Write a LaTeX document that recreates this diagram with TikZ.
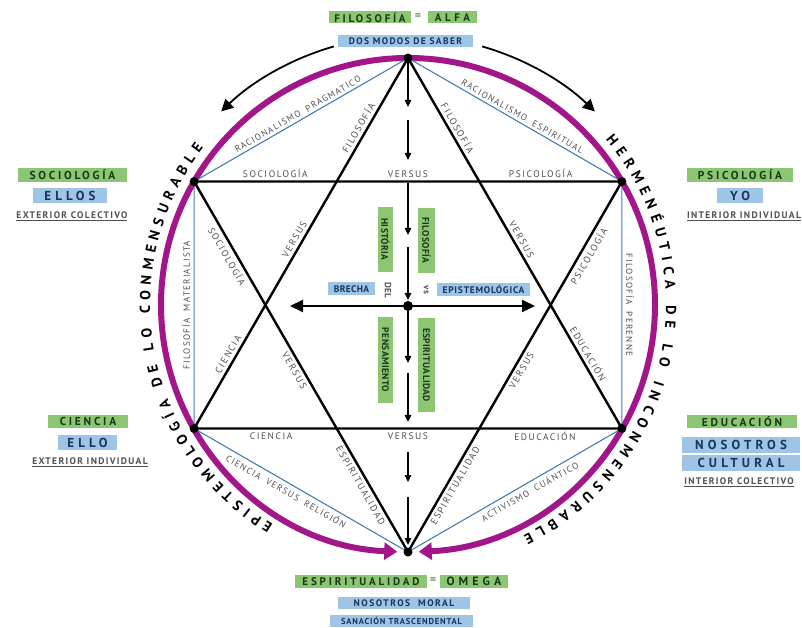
\documentclass[tikz,border=0pt]{standalone}
\usepackage{fontspec}
\setmainfont{PT Sans}
\usetikzlibrary{arrows.meta,decorations.text}
\definecolor{mag}{RGB}{162,22,138}
\definecolor{hexblue}{RGB}{70,125,180}
\definecolor{gfill}{RGB}{140,198,115}
\definecolor{gtext}{RGB}{25,55,25}
\definecolor{bfill}{RGB}{158,197,230}
\definecolor{btext}{RGB}{25,50,95}
\definecolor{lbl}{RGB}{80,80,80}
\newcommand{\fsr}[2]{\fontsize{#1}{#1}\selectfont\addfontfeature{LetterSpace=#2}}
\newcommand{\fsb}[2]{\fontsize{#1}{#1}\selectfont\bfseries\addfontfeature{LetterSpace=#2}}
\begin{document}
\begin{tikzpicture}[x=1pt,y=1pt,
  gb/.style={fill=gfill, text=gtext, inner sep=0pt, minimum height=12pt},
  bb/.style={fill=bfill, text=btext, inner sep=0pt, minimum height=12pt},
  ln/.style={text=lbl, sloped, inner sep=1pt, font=\fsr{9.5}{16}},
  bl/.style={text=lbl, sloped, inner sep=1pt, font=\fsr{9}{14}},
  sub/.style={text=lbl, inner sep=0pt, font=\fsb{9.5}{14}},
  eqs/.style={text=gfill!80!black, inner sep=0pt, font=\fsb{12}{0}},
  dot/.style={circle, fill=black, inner sep=0pt, minimum size=9pt},
  varr/.style={line width=1.3pt, -{Triangle[length=7pt,width=6.5pt]}},
  tri/.style={line width=2.4pt, line join=round},
  magarc/.style={mag, line width=6pt, -{Triangle[length=13pt,width=17pt]}},
  outarr/.style={line width=1.8pt, -{Triangle[length=12pt,width=12pt]}},
  circtext/.style={decorate, decoration={text along path, text align={fit to path},
     text={|\fontsize{14.5}{14.5}\selectfont\bfseries|#1}}}
]
\useasboundingbox[fill=white] (-408,-323) rectangle (394,305);

\coordinate (O) at (0,0);
\coordinate (T) at (90:247);
\coordinate (B) at (270:247);
\coordinate (UL) at (150:247);
\coordinate (UR) at (30:247);
\coordinate (LL) at (210:247);
\coordinate (LR) at (330:247);

% magenta circle arcs
\draw[magarc] (T) arc[start angle=90, end angle=267.5, radius=247];
\draw[magarc] (T) arc[start angle=90, end angle=-87.5, radius=247];

% outer black arrows
\coordinate (oa1) at (106:269);
\coordinate (oa2) at (74:269);
\draw[outarr] (oa1) arc[start angle=106, end angle=134, radius=269];
\draw[outarr] (oa2) arc[start angle=74, end angle=46, radius=269];

% hexagon
\draw[hexblue, line width=1.1pt] (T) -- (UL) -- (LL) -- (B) -- (LR) -- (UR) -- cycle;

% triangles
\draw[tri] (T) -- (LL) -- (LR) -- cycle;
\draw[tri] (B) -- (UL) -- (UR) -- cycle;

% vertical arrows
\coordinate (a1) at (0,198);
\coordinate (a2s) at (0,185); \coordinate (a2) at (0,145);
\coordinate (a3s) at (0,122); \coordinate (a3) at (0,70);
\coordinate (a4s) at (0,58);  \coordinate (a4) at (0,5);
\coordinate (a5s) at (0,-1);  \coordinate (a5) at (0,-58);
\coordinate (a6s) at (0,-68); \coordinate (a6) at (0,-117);
\coordinate (a7s) at (0,-147);\coordinate (a7) at (0,-177);
\coordinate (a8s) at (0,-192);\coordinate (a8) at (0,-240);
\draw[varr] (T) -- (a1);
\draw[varr] (a2s) -- (a2);
\draw[varr] (a3s) -- (a3);
\draw[varr] (a4s) -- (a4);
\draw[varr] (a5s) -- (a5);
\draw[varr] (a6s) -- (a6);
\draw[varr] (a7s) -- (a7);
\draw[varr] (a8s) -- (a8);

% horizontal double arrow
\coordinate (hl) at (-118,-1);
\coordinate (hr) at (127,-1);
\draw[line width=2pt, {Triangle[length=13pt,width=12pt]}-{Triangle[length=13pt,width=12pt]}] (hl) -- (hr);

% dots
\node[dot] (dT) at (T) {};
\node[dot] (dB) at (B) {};
\node[dot] (dUL) at (UL) {};
\node[dot] (dUR) at (UR) {};
\node[dot] (dLL) at (LL) {};
\node[dot] (dLR) at (LR) {};
\node[dot, minimum size=10pt] (dC) at (0,-1) {};

% circular texts
\path[circtext={EPISTEMOLOGÍA DE LO CONMENSURABLE}] (238.5:258) arc[start angle=238.5, end angle=142.5, radius=258];
\path[circtext={HERMENÉUTICA DE LO INCONMENSURABLE}] (40:258) arc[start angle=40, end angle=-63.5, radius=258];

% labels along triangle sides
\path (UL) -- (UR)
  node[ln, pos=0.19, above=3pt] (s1) {SOCIOLOGÍA}
  node[ln, pos=0.5, above=3pt] (s2) {VERSUS}
  node[ln, pos=0.81, above=3pt] (s3) {PSICOLOGÍA};
\path (LL) -- (LR)
  node[ln, pos=0.18, below=3pt] (s4) {CIENCIA}
  node[ln, pos=0.5, below=3pt] (s5) {VERSUS}
  node[ln, pos=0.82, below=3pt] (s6) {EDUCACIÓN};
\path (LL) -- (T)
  node[ln, pos=0.19, above=3pt] (s7) {CIENCIA}
  node[ln, pos=0.5, above=3pt] (s8) {VERSUS}
  node[ln, pos=0.8, above=3pt] (s9) {FILOSOFÍA};
\path (T) -- (LR)
  node[ln, pos=0.2, above=3pt] (s10) {FILOSOFÍA}
  node[ln, pos=0.5, above=3pt] (s11) {VERSUS}
  node[ln, pos=0.81, above=3pt] (s12) {EDUCACIÓN};
\path (UL) -- (B)
  node[ln, pos=0.19, below=3pt] (s13) {SOCIOLOGÍA}
  node[ln, pos=0.5, below=3pt] (s14) {VERSUS}
  node[ln, pos=0.81, below=3pt] (s15) {ESPIRITUALIDAD};
\path (B) -- (UR)
  node[ln, pos=0.19, below=3pt] (s16) {ESPIRITUALIDAD}
  node[ln, pos=0.5, below=3pt] (s17) {VERSUS}
  node[ln, pos=0.81, below=3pt] (s18) {PSICOLOGÍA};

% labels along hexagon sides
\path (UL) -- (T) node[bl, pos=0.5, above=2pt] (h1) {RACIONALISMO\hspace{7pt}PRAGMATICO};
\path (T) -- (UR) node[bl, pos=0.52, above=2pt] (h2) {RACIONALISMO\hspace{7pt}ESPIRITUAL};
\path (LL) -- (UL) node[bl, pos=0.5, above=3pt] (h3) {FILOSOFÍA\hspace{7pt}MATERIALISTA};
\path (UR) -- (LR) node[bl, pos=0.5, above=3pt] (h4) {FILOSOFÍA\hspace{7pt}PERENNE};
\path (LL) -- (B) node[bl, pos=0.45, below=3pt] (h5) {CIENCIA\hspace{7pt}VERSUS\hspace{7pt}RELIGIÓN};
\path (B) -- (LR) node[bl, pos=0.55, below=3pt] (h6) {ACTIVISMO\hspace{7pt}CUÁNTICO};

% center labels
\node[bb, minimum width=47pt, minimum height=13pt, font=\fsb{9.5}{4}] (brecha) at (-56.5,16) {BRECHA};
\node[rotate=-90, text=lbl, inner sep=0pt, font=\fsb{9}{4}] (del) at (-20,15) {DEL};
\node[rotate=-90, text=lbl, inner sep=0pt, font=\fsb{9}{4}] (vs) at (18,15) {vs};
\node[bb, minimum width=93pt, minimum height=13pt, font=\fsb{9.5}{8}] (epi) at (75.5,15.5) {EPISTEMOLÓGICA};
\node[gb, rotate=-90, minimum width=65pt, minimum height=15pt, font=\fsb{9.5}{4}] (hist) at (-22.5,65.5) {HISTÓRIA};
\node[gb, rotate=-90, minimum width=65pt, minimum height=17pt, font=\fsb{9.5}{4}] (filc) at (18.5,64.5) {FILOSOFÍA};
\node[gb, rotate=-90, minimum width=86pt, minimum height=15pt, font=\fsb{9.5}{4}] (pens) at (-22.5,-55) {PENSAMIENTO};
\node[gb, rotate=-90, minimum width=94pt, minimum height=17pt, font=\fsb{9.5}{4}] (espc) at (18.5,-60) {ESPIRITUALIDAD};

% top labels
\node[gb, minimum width=82pt, font=\fsb{11}{25}] (filo) at (-38,287.5) {FILOSOFÍA};
\node[eqs] (eq1) at (10,288) {=};
\node[gb, minimum width=49pt, font=\fsb{11}{32}] (alfa) at (44.5,287.5) {ALFA};
\node[bb, minimum width=135pt, font=\fsb{9.5}{14}] (dos) at (-2.5,264) {DOS MODOS DE SABER};

% bottom labels
\node[gb, minimum width=132pt, minimum height=13pt, font=\fsb{11}{26}] (espb) at (-47,-276.5) {ESPIRITUALIDAD};
\node[eqs] (eq2) at (25,-276) {=};
\node[gb, minimum width=68pt, minimum height=13pt, font=\fsb{12}{34}] (omega) at (66,-276.5) {OMEGA};
\node[bb, minimum width=132pt, font=\fsb{9.5}{16}] (nm) at (-4,-298) {NOSOTROS\hspace{8pt}MORAL};
\node[bb, minimum width=143pt, font=\fsb{8.5}{10}] (san) at (-6.5,-316) {SANACIÓN TRASCENDENTAL};

% side labels left upper
\node[gb, minimum width=109pt, minimum height=14pt, font=\fsb{11.5}{24}] (soc) at (-335.5,130) {SOCIOLOGÍA};
\node[bb, minimum width=74pt, minimum height=15pt, font=\fsb{13}{32}] (ellos) at (-338,109.5) {ELLOS};
\node[sub] (ec) at (-336,89) {\underline{EXTERIOR COLECTIVO}};
% right upper
\node[gb, minimum width=106pt, minimum height=14pt, font=\fsb{11.5}{24}] (psi) at (332,130) {PSICOLOGÍA};
\node[bb, minimum width=46pt, minimum height=15pt, font=\fsb{13}{32}] (yo) at (332,109.5) {YO};
\node[sub] (ii) at (336,89) {\underline{INTERIOR INDIVIDUAL}};
% left lower
\node[gb, minimum width=80pt, minimum height=13pt, font=\fsb{11.5}{24}] (cie) at (-320,-116.5) {CIENCIA};
\node[bb, minimum width=59pt, minimum height=15pt, font=\fsb{13}{32}] (ello) at (-320.5,-137.5) {ELLO};
\node[sub] (ei) at (-318,-157.5) {\underline{EXTERIOR INDIVIDUAL}};
% right lower
\node[gb, minimum width=110pt, minimum height=13pt, font=\fsb{11.5}{24}] (edu) at (334,-116.5) {EDUCACIÓN};
\node[bb, minimum width=118pt, minimum height=16pt, font=\fsb{13}{32}] (nos) at (333,-140) {NOSOTROS};
\node[bb, minimum width=118pt, minimum height=16pt, font=\fsb{13}{32}] (cul) at (333,-158) {CULTURAL};
\node[sub] (ic) at (331,-177) {\underline{INTERIOR COLECTIVO}};
\end{tikzpicture}
\end{document}
